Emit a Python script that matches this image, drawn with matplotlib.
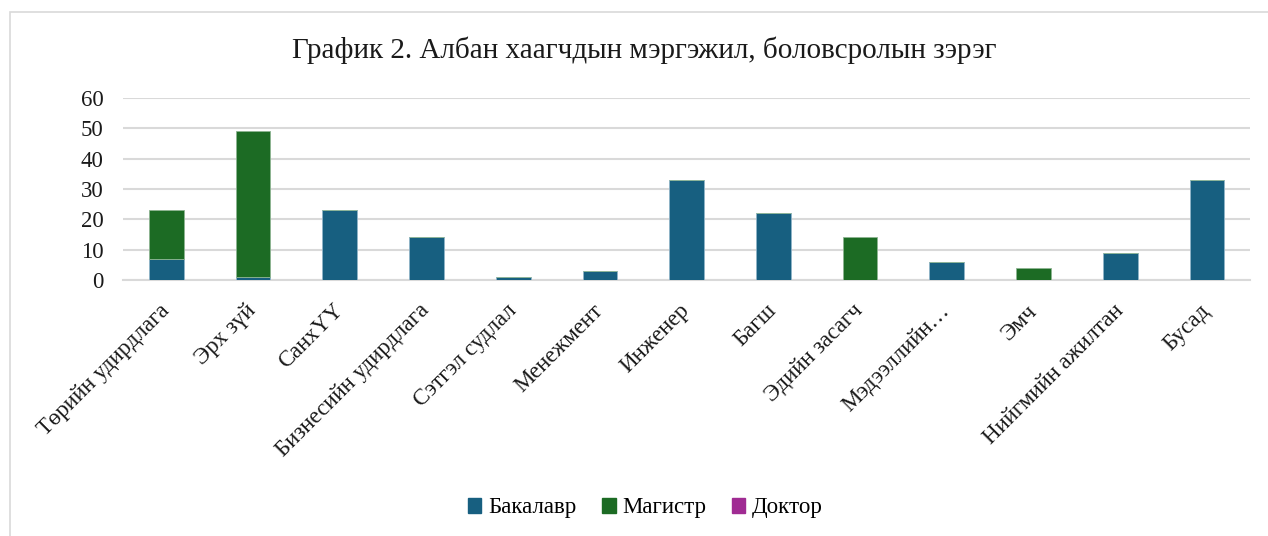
import numpy as np
import matplotlib
matplotlib.use("Agg")
import matplotlib.pyplot as plt
from matplotlib.patches import Rectangle

plt.rcParams['font.family'] = ['Liberation Serif', 'DejaVu Serif']

## categories and counts per degree
categories = ["Төрийн удирдлага", "Эрх зүй", "СанхҮҮ", "Бизнесийн удирдлага",
              "Сэтгэл судлал", "Менежмент", "Инженер", "Багш", "Эдийн засагч",
              "Мэдээллийн…", "Эмч", "Нийгмийн ажилтан", "Бусад"]
bachelor = [7, 1, 23, 14, 1, 3, 33, 22, 0, 6, 0, 9, 33]
master = [16, 48, 0, 0, 0, 0, 0, 0, 14, 0, 4, 0, 0]
doctor = [0, 0, 0, 0, 0, 0, 0, 0, 0, 0, 0, 0, 0]

title = "График 2. Албан хаагчдын мэргэжил, боловсролын зэрэг"
series_names = ["Бакалавр", "Магистр", "Доктор"]
colors = ["#175F80", "#1C6B24", "#A02B93"]

fig = plt.figure(figsize=(12.68, 5.36), dpi=100)
ax = fig.add_axes([0.097, 0.478, 0.889, 0.339])

# chart frame
fig.patches.append(Rectangle((10 / 1268, -0.1), 1.2, 1 - 12 / 536 + 0.1,
                             transform=fig.transFigure, fill=False,
                             edgecolor="#D9D9D9", linewidth=1.2))

x = np.arange(len(categories))
b = np.array(bachelor)
m = np.array(master)
d = np.array(doctor)
w = 0.4
ax.bar(x, b, w, color=colors[0], edgecolor="#8FB4C8", linewidth=0.6, label=series_names[0], zorder=3)
ax.bar(x, m, w, bottom=b, color=colors[1], edgecolor="#8DB592", linewidth=0.6, label=series_names[1], zorder=3)
ax.bar(x, d, w, bottom=b + m, color=colors[2], edgecolor=colors[2], linewidth=0, label=series_names[2], zorder=3)

ax.set_xlim(-0.5, len(categories) - 0.5)
ax.set_ylim(0, 60)
ax.set_yticks(range(0, 61, 10))
ax.yaxis.grid(True, color="#D9D9D9", linewidth=1.5, zorder=0)
ax.set_axisbelow(True)
for s in ["top", "right", "left"]:
    ax.spines[s].set_visible(False)
ax.spines["bottom"].set_color("#D9D9D9")
ax.spines["bottom"].set_linewidth(1.5)
ax.tick_params(axis="both", length=0, labelsize=16.5, labelcolor="#1a1a1a")
ax.tick_params(axis="y", pad=14)

ax.set_xticks(x)
ax.set_xticklabels(categories, rotation=45, ha="right", va="center",
                   rotation_mode="anchor", fontsize=16.5)
ax.tick_params(axis="x", pad=20)

fig.text(0.508, 1 - 50 / 536, title, ha="center", va="center", fontsize=21, color="#1a1a1a")

handles = [Rectangle((0, 0), 1, 1, color=c) for c in colors]
fig.legend(handles, series_names, loc="center", bbox_to_anchor=(0.509, 1 - 508 / 536),
           ncol=3, frameon=False, fontsize=16.5, handlelength=0.6, handleheight=0.6,
           handletextpad=0.3, columnspacing=1.1)

fig.savefig("out.png", dpi=100)
